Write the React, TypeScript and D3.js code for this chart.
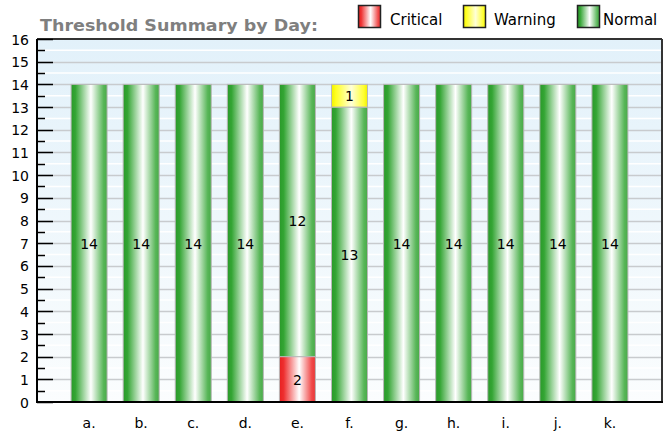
import React, { useRef, useEffect } from 'react';
import * as d3 from 'd3';

const categories = ['a.', 'b.', 'c.', 'd.', 'e.', 'f.', 'g.', 'h.', 'i.', 'j.', 'k.'];
const critical = [0, 0, 0, 0, 2, 0, 0, 0, 0, 0, 0];
const normal = [14, 14, 14, 14, 12, 13, 14, 14, 14, 14, 14];
const warning = [0, 0, 0, 0, 0, 1, 0, 0, 0, 0, 0];
const seriesKeys = ['critical', 'normal', 'warning'];
const legendItems = [
  { key: 'critical', label: 'Critical' },
  { key: 'warning', label: 'Warning' },
  { key: 'normal', label: 'Normal' },
];
const yMax = 16;

const gradients: Record<string, [number, string][]> = {
  critical: [[0, '#e82020'], [0.12, '#ee3030'], [0.55, '#ffffff'], [0.9, '#f04848'], [1, '#e83838']],
  warning: [[0, '#f0f000'], [0.12, '#ffff20'], [0.55, '#ffffd8'], [0.9, '#ffff30'], [1, '#f0f000']],
  normal: [[0, '#2a9a2a'], [0.12, '#34a534'], [0.55, '#ffffff'], [0.9, '#58b658'], [1, '#48aa48']],
};

export default function App() {
  const svgRef = useRef<SVGSVGElement>(null);

  useEffect(() => {
    if (!svgRef.current) return;
    document.body.style.margin = '0';
    const width = 671;
    const height = 439;
    const margin = { top: 39, right: 9, bottom: 37, left: 37 };
    const innerWidth = width - margin.left - margin.right;
    const innerHeight = height - margin.top - margin.bottom;
    const font = '"DejaVu Sans", Verdana, sans-serif';

    const root = d3.select(svgRef.current);
    root.selectAll('*').remove();
    root.attr('width', width).attr('height', height);

    const defs = root.append('defs');
    Object.entries(gradients).forEach(([key, stops]) => {
      const g = defs.append('linearGradient').attr('id', `grad-${key}`)
        .attr('x1', '0%').attr('x2', '100%').attr('y1', '0%').attr('y2', '0%');
      stops.forEach(([o, c]) => g.append('stop').attr('offset', o).attr('stop-color', c));
    });
    const bg = defs.append('linearGradient').attr('id', 'grad-bg')
      .attr('x1', '0%').attr('x2', '0%').attr('y1', '0%').attr('y2', '100%');
    bg.append('stop').attr('offset', 0).attr('stop-color', '#e2f1fa');
    bg.append('stop').attr('offset', 1).attr('stop-color', '#fbfdfe');

    const table = categories.map((c, i) => ({
      cat: c, critical: critical[i], normal: normal[i], warning: warning[i],
    }));
    const stacked = d3.stack<any>().keys(seriesKeys)(table);

    const x = d3.scalePoint().domain(categories).range([0, innerWidth]).padding(1);
    const y = d3.scaleLinear().domain([0, yMax]).range([innerHeight, 0]);
    const barW = 36;

    const svg = root.append('g').attr('transform', `translate(${margin.left},${margin.top})`);

    // background
    svg.append('rect').attr('width', innerWidth).attr('height', innerHeight).attr('fill', 'url(#grad-bg)');

    // grid
    const halves = d3.range(0.5, yMax, 1);
    svg.selectAll('.minor-grid').data(halves).enter().append('line')
      .attr('x1', 0).attr('x2', innerWidth)
      .attr('y1', d => y(d)).attr('y2', d => y(d))
      .attr('stroke', '#ffffff').attr('stroke-width', 1.5);
    svg.selectAll('.major-grid').data(d3.range(1, yMax)).enter().append('line')
      .attr('x1', 0).attr('x2', innerWidth)
      .attr('y1', d => Math.round(y(d)) + 0.5).attr('y2', d => Math.round(y(d)) + 0.5)
      .attr('stroke', '#c8cbce').attr('stroke-width', 1.5);

    // bars
    stacked.forEach(layer => {
      svg.selectAll(`.bar-${layer.key}`).data(layer.filter(d => d[1] - d[0] > 0)).enter()
        .append('rect')
        .attr('x', d => (x(d.data.cat) || 0) - barW / 2)
        .attr('width', barW)
        .attr('y', d => y(d[1]))
        .attr('height', d => y(d[0]) - y(d[1]))
        .attr('fill', `url(#grad-${layer.key})`)
        .attr('stroke', '#b8b8b8').attr('stroke-width', 1);
    });

    // value labels
    stacked.forEach(layer => {
      svg.selectAll(`.lbl-${layer.key}`).data(layer.filter(d => d[1] - d[0] > 0)).enter()
        .append('text')
        .attr('x', d => x(d.data.cat) || 0)
        .attr('y', d => y((d[0] + d[1]) / 2))
        .attr('dy', '0.4em')
        .attr('text-anchor', 'middle')
        .style('font-family', font).style('font-size', '14px').style('fill', '#000')
        .text(d => d[1] - d[0]);
    });

    // frame
    svg.append('line').attr('x1', 0).attr('x2', innerWidth).attr('y1', 0).attr('y2', 0)
      .attr('stroke', '#333').attr('stroke-width', 2);
    svg.append('line').attr('x1', innerWidth).attr('x2', innerWidth).attr('y1', 0).attr('y2', innerHeight)
      .attr('stroke', '#333').attr('stroke-width', 2);
    svg.append('line').attr('x1', 0).attr('x2', 0).attr('y1', 0).attr('y2', innerHeight + 1)
      .attr('stroke', '#000').attr('stroke-width', 2);
    svg.append('line').attr('x1', 0).attr('x2', innerWidth + 1).attr('y1', innerHeight).attr('y2', innerHeight)
      .attr('stroke', '#000').attr('stroke-width', 2);

    // y ticks
    svg.selectAll('.tick-major').data(y.ticks(yMax)).enter().append('line')
      .attr('x1', 0).attr('x2', 16)
      .attr('y1', d => Math.round(y(d)) + 0.5).attr('y2', d => Math.round(y(d)) + 0.5)
      .attr('stroke', '#000').attr('stroke-width', 1.5);
    svg.selectAll('.tick-minor').data(halves).enter().append('line')
      .attr('x1', 0).attr('x2', 8)
      .attr('y1', d => Math.round(y(d)) + 0.5).attr('y2', d => Math.round(y(d)) + 0.5)
      .attr('stroke', '#000').attr('stroke-width', 1.5);
    svg.selectAll('.ylbl').data(y.ticks(yMax)).enter().append('text')
      .attr('x', -8).attr('y', d => y(d)).attr('dy', '0.4em')
      .attr('text-anchor', 'end')
      .style('font-family', font).style('font-size', '14px').style('fill', '#000')
      .text(d => d);

    // x labels
    svg.selectAll('.xlbl').data(categories).enter().append('text')
      .attr('x', d => x(d) || 0).attr('y', innerHeight + 26)
      .attr('text-anchor', 'middle')
      .style('font-family', font).style('font-size', '14px').style('fill', '#000')
      .text(d => d);

    // title
    root.append('text').attr('x', 40).attr('y', 31)
      .attr('textLength', 278).attr('lengthAdjust', 'spacingAndGlyphs')
      .style('font-family', font).style('font-size', '15px').style('font-weight', 'bold')
      .style('fill', '#7f7f7f')
      .text('Threshold Summary by Day:');

    // legend
    const legendX = [358, 463, 577];
    const textOffset = [32, 31, 26];
    legendItems.forEach((item, i) => {
      const g = root.append('g').attr('transform', `translate(${legendX[i]},5)`);
      g.append('rect').attr('x', 0.5).attr('y', 0.5).attr('width', 22).attr('height', 22)
        .attr('fill', `url(#grad-${item.key})`).attr('stroke', '#222').attr('stroke-width', 1.5);
      g.append('text').attr('x', textOffset[i]).attr('y', 20)
        .style('font-family', font).style('font-size', '15px').style('fill', '#000')
        .text(item.label);
    });
  }, []);

  return <svg ref={svgRef} style={{ display: 'block' }} />;
}
